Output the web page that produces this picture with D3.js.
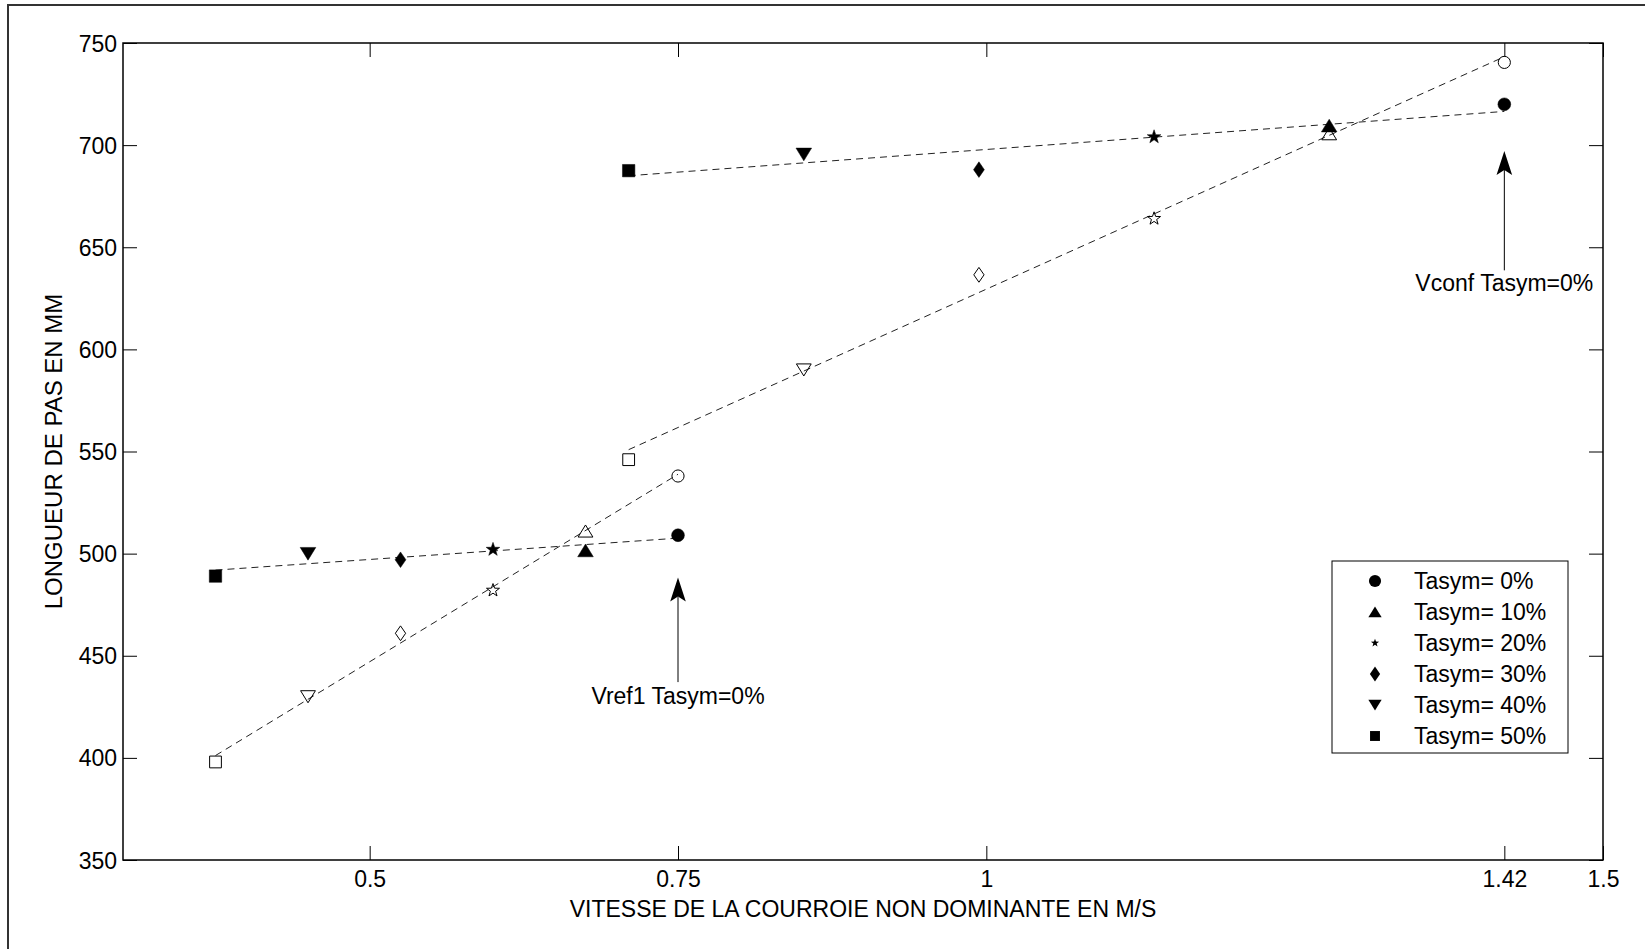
<!DOCTYPE html>
<html>
<head>
<meta charset="utf-8">
<script src="https://cdn.jsdelivr.net/npm/d3@7"></script>
<style>
  html, body { margin: 0; padding: 0; background: #fff; }
  svg { display: block; }
  text { font-family: "Liberation Sans", Arial, Helvetica, sans-serif; fill: #000; }
</style>
</head>
<body>
<svg id="chart" width="1645" height="949"></svg>
<script>
// ---------------- DATA ----------------
const tasymLabels = ["Tasym= 0%", "Tasym= 10%", "Tasym= 20%", "Tasym= 30%", "Tasym= 40%", "Tasym= 50%"];
const markerTypes = ["circle", "triangle", "star", "diamond", "triangleDown", "square"];

// speed of non-dominant belt (m/s), per Tasym (0% .. 50%)
const vitesseRef  = [0.75, 0.675, 0.6, 0.525, 0.45, 0.375];
const vitesseConf = [1.42, 1.278, 1.136, 0.994, 0.852, 0.71];

// step length (mm): filled markers and open markers
const pasRefPlein   = [509, 501.5, 502, 497, 500, 489];
const pasRefVide    = [538, 511, 482, 461, 430, 398];
const pasConfPlein  = [720, 709.5, 704, 688, 695.5, 687.5];
const pasConfVide   = [740.5, 705.5, 664, 636.5, 590, 546];

const xTicks = [0.5, 0.75, 1, 1.42, 1.5];
const yTicks = [350, 400, 450, 500, 550, 600, 650, 700, 750];

const xLabel = "VITESSE DE LA COURROIE NON DOMINANTE EN M/S";
const yLabel = "LONGUEUR DE PAS EN MM";

const annotations = [
  { text: "Vref1 Tasym=0%", x: 0.75, yTip: 488.3, yTail: 437.1, yText: 426.4 },
  { text: "Vconf Tasym=0%", x: 1.42, yTip: 697.1, yTail: 638.7, yText: 628.7 }
];

// ---------------- LAYOUT ----------------
const svg = d3.select("#chart");
const L = 123, R = 1603, T = 43, B = 860;
const FS = 23;

const x = d3.scaleLinear().domain([0.3, 1.5]).range([L, R]);
const y = d3.scaleLinear().domain([350, 750]).range([B, T]);

// outer figure frame (cut at right/bottom)
svg.append("rect").attr("x", 8).attr("y", 5).attr("width", 1700).attr("height", 1000)
  .attr("fill", "none").attr("stroke", "#333").attr("stroke-width", 2);

// ---------------- AXES ----------------
const tickLen = 14;
const axB = d3.axisBottom(x).tickValues(xTicks).tickSizeInner(-tickLen).tickSizeOuter(0)
  .tickPadding(0).tickFormat(d3.format("~g"));
const axT = d3.axisTop(x).tickValues(xTicks).tickSizeInner(-tickLen).tickSizeOuter(0).tickFormat("");
const axL = d3.axisLeft(y).tickValues(yTicks).tickSizeInner(-tickLen).tickSizeOuter(0).tickPadding(6);
const axR = d3.axisRight(y).tickValues(yTicks).tickSizeInner(-tickLen).tickSizeOuter(0).tickFormat("");

function styleAxis(g) {
  g.select(".domain").remove();
  g.selectAll(".tick line").attr("stroke", "#000").attr("stroke-width", 1);
  g.selectAll(".tick text").attr("font-size", FS).attr("fill", "#000")
    .attr("font-family", '"Liberation Sans", Arial, sans-serif');
}

const gB = svg.append("g").attr("transform", `translate(0,${B})`).call(axB).call(styleAxis);
gB.selectAll(".tick text").attr("dy", null).attr("y", 27);
svg.append("g").attr("transform", `translate(0,${T})`).call(axT).call(styleAxis);
const gL = svg.append("g").attr("transform", `translate(${L},0)`).call(axL).call(styleAxis);
gL.selectAll(".tick text").attr("dy", "0.35em");
svg.append("g").attr("transform", `translate(${R},0)`).call(axR).call(styleAxis);

// box
svg.append("rect").attr("x", L).attr("y", T).attr("width", R - L).attr("height", B - T)
  .attr("fill", "none").attr("stroke", "#000").attr("stroke-width", 1.5);

// axis labels
svg.append("text").attr("x", (L + R) / 2).attr("y", 917).attr("text-anchor", "middle")
  .attr("font-size", FS).text(xLabel);
svg.append("text").attr("transform", `translate(62,${(T + B) / 2}) rotate(-90)`)
  .attr("text-anchor", "middle").attr("font-size", FS + 1).text(yLabel);

// ---------------- FIT LINES ----------------
function fit(xs, ys) {
  const mx = d3.mean(xs), my = d3.mean(ys);
  let sxy = 0, sxx = 0;
  xs.forEach((v, i) => { sxy += (v - mx) * (ys[i] - my); sxx += (v - mx) * (v - mx); });
  const b = sxy / sxx, a = my - b * mx;
  const [x0, x1] = d3.extent(xs);
  return [[x0, a + b * x0], [x1, a + b * x1]];
}
const groups = [
  { xs: vitesseRef, ys: pasRefPlein, filled: true },
  { xs: vitesseRef, ys: pasRefVide, filled: false },
  { xs: vitesseConf, ys: pasConfPlein, filled: true },
  { xs: vitesseConf, ys: pasConfVide, filled: false }
];
const lineGen = d3.line().x(d => x(d[0])).y(d => y(d[1]));
groups.forEach(gr => {
  svg.append("path").attr("d", lineGen(fit(gr.xs, gr.ys)))
    .attr("fill", "none").attr("stroke", "#222").attr("stroke-width", 1)
    .attr("stroke-dasharray", "7,5");
});

// ---------------- MARKERS ----------------
function markerPath(type, s) {
  const p = d3.path();
  if (type === "circle") {
    p.arc(0, 0, 6.4 * s, 0, 2 * Math.PI); p.closePath();
  } else if (type === "triangle") {
    p.moveTo(0, -6.5 * s); p.lineTo(7.8 * s, 6.2 * s); p.lineTo(-7.8 * s, 6.2 * s); p.closePath();
  } else if (type === "triangleDown") {
    p.moveTo(0, 6.5 * s); p.lineTo(7.8 * s, -6.2 * s); p.lineTo(-7.8 * s, -6.2 * s); p.closePath();
  } else if (type === "diamond") {
    p.moveTo(0, -7.8 * s); p.lineTo(5.4 * s, 0); p.lineTo(0, 7.8 * s); p.lineTo(-5.4 * s, 0); p.closePath();
  } else if (type === "square") {
    p.rect(-6.2 * s, -6.2 * s, 12.4 * s, 12.4 * s);
  } else if (type === "star") {
    const Ro = 7.2 * s, Ri = Ro * 0.4;
    for (let k = 0; k < 10; k++) {
      const ang = -Math.PI / 2 + k * Math.PI / 5;
      const rr = k % 2 === 0 ? Ro : Ri;
      const px = rr * Math.cos(ang), py = rr * Math.sin(ang);
      if (k === 0) p.moveTo(px, py); else p.lineTo(px, py);
    }
    p.closePath();
  }
  return p.toString();
}

groups.forEach(gr => {
  gr.xs.forEach((v, i) => {
    const m = svg.append("path").attr("d", markerPath(markerTypes[i], gr.filled ? 1 : 0.95))
      .attr("transform", `translate(${x(v)},${y(gr.ys[i])})`);
    if (gr.filled) m.attr("fill", "#000").attr("stroke", "#000").attr("stroke-width", 0.5);
    else m.attr("fill", "none").attr("stroke", "#000").attr("stroke-width", 1);
  });
});

// ---------------- ANNOTATIONS ----------------
annotations.forEach(a => {
  const ax = x(a.x), yt = y(a.yTip), yb = y(a.yTail);
  svg.append("line").attr("x1", ax).attr("x2", ax).attr("y1", yb).attr("y2", yt + 19)
    .attr("stroke", "#000").attr("stroke-width", 1);
  svg.append("path")
    .attr("d", `M${ax},${yt} L${ax + 7.8},${yt + 24} L${ax},${yt + 19} L${ax - 7.8},${yt + 24} Z`)
    .attr("fill", "#000");
  svg.append("text").attr("x", ax).attr("y", y(a.yText)).attr("text-anchor", "middle")
    .attr("font-size", FS).text(a.text);
});

// ---------------- LEGEND ----------------
const lg = { x: 1332, y: 561, w: 236, h: 192 };
svg.append("rect").attr("x", lg.x).attr("y", lg.y).attr("width", lg.w).attr("height", lg.h)
  .attr("fill", "#fff").attr("stroke", "#000").attr("stroke-width", 1);
const legendScales = { circle: 0.95, triangle: 0.85, star: 0.6, diamond: 0.95, triangleDown: 0.85, square: 0.8 };
tasymLabels.forEach((lab, i) => {
  const cy = lg.y + 20 + i * 31;
  svg.append("path").attr("d", markerPath(markerTypes[i], legendScales[markerTypes[i]]))
    .attr("transform", `translate(${lg.x + 43},${cy})`).attr("fill", "#000");
  svg.append("text").attr("x", lg.x + 82).attr("y", cy).attr("dy", "0.35em")
    .attr("font-size", FS).text(lab);
});
</script>
</body>
</html>
